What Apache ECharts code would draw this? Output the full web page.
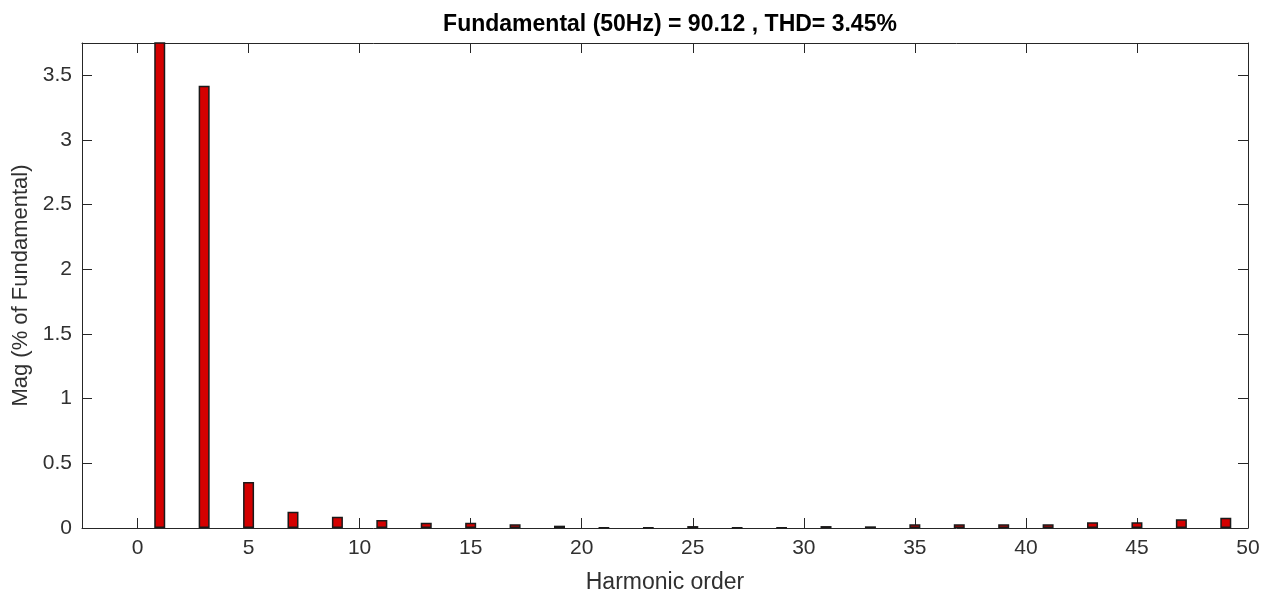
<!DOCTYPE html>
<html>
<head>
<meta charset="utf-8">
<script src="https://cdn.jsdelivr.net/npm/echarts@6/dist/echarts.min.js"></script>
<style>
  html, body { margin: 0; padding: 0; background: #fff; }
  #chart { width: 1274px; height: 596px; }
</style>
</head>
<body>
<div id="chart"></div>
<script>
// harmonic order (odd harmonics) and magnitude in % of fundamental
var harmonicOrder = [1, 3, 5, 7, 9, 11, 13, 15, 17, 19, 21, 23, 25, 27, 29, 31, 33, 35, 37, 39, 41, 43, 45, 47, 49];
var magnitude = [100, 3.42, 0.355, 0.126, 0.087, 0.062, 0.041, 0.041, 0.029, 0.018, 0.002, 0.002, 0.015, 0.002, 0.002,
  0.015, 0.013, 0.029, 0.029, 0.029, 0.029, 0.044, 0.044, 0.067, 0.08];
var xTicks = [0, 5, 10, 15, 20, 25, 30, 35, 40, 45, 50];
var yTicks = [0, 0.5, 1, 1.5, 2, 2.5, 3, 3.5];
var titleText = 'Fundamental (50Hz) = 90.12 , THD= 3.45%';

var axisColor = '#262626';
var textColor = '#303030';
var font = 'Liberation Sans, Arial, sans-serif';

var barData = harmonicOrder.map(function (h, i) { return [h, magnitude[i]]; });

var chart = echarts.init(document.getElementById('chart'));
var option = {
  animation: false,
  title: {
    text: titleText,
    left: 665,
    textAlign: 'center',
    top: 8,
    textStyle: { fontFamily: font, fontSize: 23, fontWeight: 'bold', color: '#000' }
  },
  grid: { left: 82, right: 26, top: 43, bottom: 68, containLabel: false, outerBoundsMode: 'none' },
  xAxis: [
    {
      type: 'value',
      min: -2.5,
      max: 50,
      name: 'Harmonic order',
      nameLocation: 'middle',
      nameGap: 43,
      nameTextStyle: { fontFamily: font, fontSize: 23, color: textColor },
      axisLine: { show: true, onZero: false, lineStyle: { color: axisColor, width: 1 } },
      axisTick: { show: true, inside: true, length: 10, customValues: xTicks, lineStyle: { color: axisColor } },
      axisLabel: { fontFamily: font, fontSize: 21, color: textColor, margin: 10, customValues: xTicks },
      splitLine: { show: false }
    },
    {
      type: 'value',
      position: 'top',
      min: -2.5,
      max: 50,
      axisLine: { show: true, onZero: false, lineStyle: { color: axisColor, width: 1 } },
      axisTick: { show: true, inside: true, length: 10, customValues: xTicks, lineStyle: { color: axisColor } },
      axisLabel: { show: false },
      splitLine: { show: false }
    }
  ],
  yAxis: [
    {
      type: 'value',
      min: 0,
      max: 3.75,
      name: 'Mag (% of Fundamental)',
      nameLocation: 'middle',
      nameGap: 44,
      nameTextStyle: { fontFamily: font, fontSize: 22, color: textColor },
      axisLine: { show: true, onZero: false, lineStyle: { color: axisColor, width: 1 } },
      axisTick: { show: true, inside: true, length: 10, customValues: yTicks, lineStyle: { color: axisColor } },
      axisLabel: { fontFamily: font, fontSize: 21, color: textColor, margin: 10, customValues: yTicks },
      splitLine: { show: false }
    },
    {
      type: 'value',
      position: 'right',
      min: 0,
      max: 3.75,
      axisLine: { show: true, onZero: false, lineStyle: { color: axisColor, width: 1 } },
      axisTick: { show: true, inside: true, length: 10, customValues: yTicks, lineStyle: { color: axisColor } },
      axisLabel: { show: false },
      splitLine: { show: false }
    }
  ],
  series: [
    {
      type: 'bar',
      xAxisIndex: 0,
      yAxisIndex: 0,
      data: barData,
      barWidth: 11,
      clip: true,
      itemStyle: { color: '#d40000', borderColor: '#1a1a1a', borderWidth: 1.5 }
    }
  ]
};
chart.setOption(option);
</script>
</body>
</html>
